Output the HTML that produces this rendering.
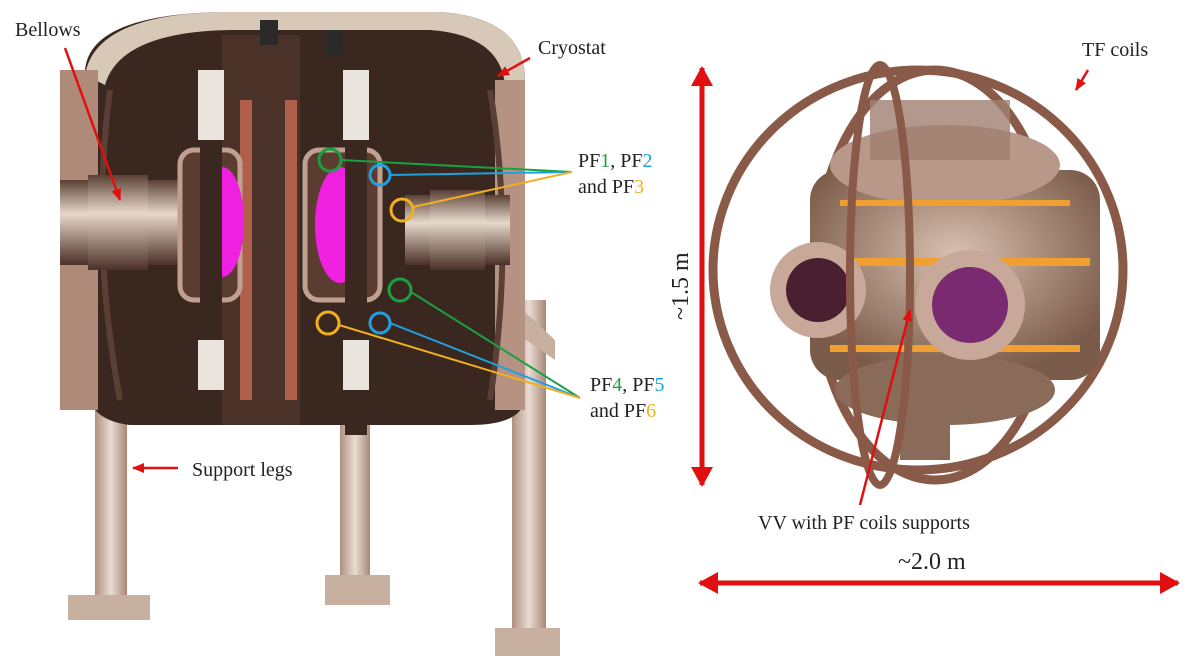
<!DOCTYPE html>
<html><head><meta charset="utf-8"><style>
html,body{margin:0;padding:0;background:#fff;}
svg{display:block;}
text{font-family:"Liberation Serif",serif;font-size:20px;fill:#222;}
</style></head><body>
<svg width="1202" height="672" viewBox="0 0 1202 672" xmlns="http://www.w3.org/2000/svg">
<defs>
<marker id="ar" markerWidth="20" markerHeight="22" refX="18" refY="11" orient="auto" markerUnits="userSpaceOnUse"><path d="M0,0 L20,11 L0,22 z" fill="#e01010"/></marker>
<marker id="as" markerWidth="12" markerHeight="10" refX="11" refY="5" orient="auto" markerUnits="userSpaceOnUse"><path d="M0,0 L12,5 L0,10 z" fill="#e01010"/></marker>
<linearGradient id="pipe" x1="0" y1="0" x2="0" y2="1"><stop offset="0" stop-color="#5a4035"/><stop offset="0.4" stop-color="#e8d8cc"/><stop offset="1" stop-color="#4a3028"/></linearGradient>
<linearGradient id="leg" x1="0" y1="0" x2="1" y2="0"><stop offset="0" stop-color="#b09080"/><stop offset="0.5" stop-color="#e8dcd2"/><stop offset="1" stop-color="#a88878"/></linearGradient>
<radialGradient id="body" cx="0.5" cy="0.4" r="0.6"><stop offset="0" stop-color="#d8c0b0"/><stop offset="1" stop-color="#7a5a48"/></radialGradient>
</defs>
<!-- legs -->
<rect x="95" y="320" width="32" height="280" fill="url(#leg)"/>
<rect x="68" y="595" width="82" height="25" fill="#c8b0a0"/>
<rect x="340" y="420" width="30" height="160" fill="url(#leg)"/>
<rect x="325" y="575" width="65" height="30" fill="#c8b0a0"/>
<rect x="512" y="300" width="34" height="335" fill="url(#leg)"/>
<polygon points="512,300 555,340 555,360 512,330" fill="#c8b0a0"/>
<rect x="495" y="628" width="65" height="28" fill="#c8b0a0"/>
<!-- cryostat -->
<path d="M85,70 Q90,15 220,12 L440,12 Q525,18 525,80 L525,400 Q520,425 470,425 L130,425 Q85,420 85,380 Z" fill="#3a2820"/>
<path d="M85,75 Q95,15 220,12 L440,12 Q525,18 525,80 L505,85 Q500,35 430,30 L230,30 Q120,32 105,85 Z" fill="#d8c8b8"/>
<rect x="60" y="70" width="38" height="340" fill="#b08a78"/>
<rect x="495" y="80" width="30" height="330" fill="#b59282"/>
<path d="M110,90 Q90,240 120,400" stroke="#5a4034" stroke-width="6" fill="none"/>
<path d="M490,90 Q515,240 490,400" stroke="#5a4034" stroke-width="6" fill="none"/>
<!-- pipes -->
<rect x="60" y="180" width="145" height="85" fill="url(#pipe)"/>
<rect x="88" y="175" width="60" height="95" fill="url(#pipe)"/>
<rect x="405" y="195" width="105" height="70" fill="url(#pipe)"/>
<rect x="430" y="190" width="55" height="80" fill="url(#pipe)"/>
<!-- center -->
<rect x="215" y="35" width="85" height="390" fill="#4a3228"/>
<rect x="240" y="100" width="12" height="300" fill="#b0604a"/>
<rect x="285" y="100" width="12" height="300" fill="#b0604a"/>
<rect x="180" y="150" width="60" height="150" rx="14" fill="#5a3c30" stroke="#c0a090" stroke-width="5"/>
<rect x="305" y="150" width="75" height="150" rx="14" fill="#5a3c30" stroke="#c0a090" stroke-width="5"/>
<ellipse cx="222" cy="222" rx="22" ry="55" fill="#f020e0"/>
<ellipse cx="340" cy="225" rx="25" ry="58" fill="#f020e0"/>
<rect x="200" y="35" width="22" height="390" fill="#3a2820"/>
<rect x="345" y="35" width="22" height="400" fill="#3a2820"/>
<rect x="198" y="70" width="26" height="70" fill="#eae4de"/>
<rect x="343" y="70" width="26" height="70" fill="#eae4de"/>
<rect x="198" y="340" width="26" height="50" fill="#eae4de"/>
<rect x="343" y="340" width="26" height="50" fill="#eae4de"/>
<rect x="260" y="20" width="18" height="25" fill="#2a2a2a"/>
<rect x="325" y="30" width="18" height="25" fill="#2a2a2a"/>
<!-- PF circles -->
<circle cx="330" cy="160" r="11" fill="none" stroke="#1aa040" stroke-width="3"/>
<circle cx="380" cy="175" r="10" fill="none" stroke="#20a0e0" stroke-width="3"/>
<circle cx="402" cy="210" r="11" fill="none" stroke="#f0b020" stroke-width="3"/>
<circle cx="400" cy="290" r="11" fill="none" stroke="#1aa040" stroke-width="3"/>
<circle cx="380" cy="323" r="10" fill="none" stroke="#20a0e0" stroke-width="3"/>
<circle cx="328" cy="323" r="11" fill="none" stroke="#f0b020" stroke-width="3"/>
<line x1="341" y1="160" x2="572" y2="172" stroke="#1aa040" stroke-width="2"/>
<line x1="390" y1="175" x2="572" y2="172" stroke="#20a0e0" stroke-width="2"/>
<line x1="413" y1="207" x2="572" y2="172" stroke="#f0b020" stroke-width="2"/>
<line x1="411" y1="292" x2="580" y2="398" stroke="#1aa040" stroke-width="2"/>
<line x1="390" y1="323" x2="580" y2="398" stroke="#20a0e0" stroke-width="2"/>
<line x1="339" y1="325" x2="580" y2="398" stroke="#f0b020" stroke-width="2"/>
<!-- right device -->
<ellipse cx="918" cy="270" rx="205" ry="200" fill="none" stroke="#8a5a48" stroke-width="9"/>
<ellipse cx="935" cy="275" rx="120" ry="205" fill="none" stroke="#8a5a48" stroke-width="9"/>
<rect x="810" y="170" width="290" height="210" rx="30" fill="url(#body)"/>
<ellipse cx="945" cy="165" rx="115" ry="40" fill="#b89888"/>
<ellipse cx="945" cy="390" rx="110" ry="35" fill="#8a6a58"/>
<rect x="820" y="258" width="270" height="8" fill="#f0a030"/>
<rect x="830" y="345" width="250" height="7" fill="#f0a030"/>
<rect x="840" y="200" width="230" height="6" fill="#f0a030"/>
<circle cx="818" cy="290" r="48" fill="#c8a898"/><circle cx="818" cy="290" r="32" fill="#4a2030"/>
<circle cx="970" cy="305" r="55" fill="#c8a898"/><circle cx="970" cy="305" r="38" fill="#7a2a70"/>
<rect x="900" y="370" width="50" height="90" fill="#8a6a58"/>
<rect x="870" y="100" width="140" height="60" fill="#a08070" opacity="0.8"/>
<ellipse cx="880" cy="275" rx="30" ry="210" fill="none" stroke="#8a5a48" stroke-width="8"/>
<!-- red arrows -->
<g stroke="#e01010" fill="none">
<line x1="702" y1="90" x2="702" y2="485" stroke-width="5" marker-end="url(#ar)"/>
<line x1="702" y1="485" x2="702" y2="68" stroke-width="5" marker-end="url(#ar)"/>
<line x1="720" y1="583" x2="1178" y2="583" stroke-width="5" marker-end="url(#ar)"/>
<line x1="1160" y1="583" x2="700" y2="583" stroke-width="5" marker-end="url(#ar)"/>
<line x1="65" y1="48" x2="120" y2="200" stroke-width="2.5" marker-end="url(#as)"/>
<line x1="530" y1="58" x2="498" y2="76" stroke-width="2.5" marker-end="url(#as)"/>
<line x1="1088" y1="70" x2="1076" y2="90" stroke-width="2.5" marker-end="url(#as)"/>
<line x1="178" y1="468" x2="133" y2="468" stroke-width="2.5" marker-end="url(#as)"/>
<line x1="860" y1="505" x2="910" y2="310" stroke-width="2.5" marker-end="url(#as)"/>
</g>
<!-- labels -->
<text x="15" y="36">Bellows</text>
<text x="538" y="54">Cryostat</text>
<text x="1082" y="56">TF coils</text>
<text x="192" y="476">Support legs</text>
<text x="578" y="167">PF<tspan fill="#1aa040">1</tspan>, PF<tspan fill="#20a0e0">2</tspan></text>
<text x="578" y="193">and PF<tspan fill="#f0b020">3</tspan></text>
<text x="590" y="391">PF<tspan fill="#1aa040">4</tspan>, PF<tspan fill="#20a0e0">5</tspan></text>
<text x="590" y="417">and PF<tspan fill="#f0b020">6</tspan></text>
<text x="758" y="529">VV with PF coils supports</text>
<text x="898" y="569" style="font-size:24px">~2.0 m</text>
<text transform="translate(688,320) rotate(-90)" style="font-size:24px">~1.5 m</text>
</svg>
</body></html>
